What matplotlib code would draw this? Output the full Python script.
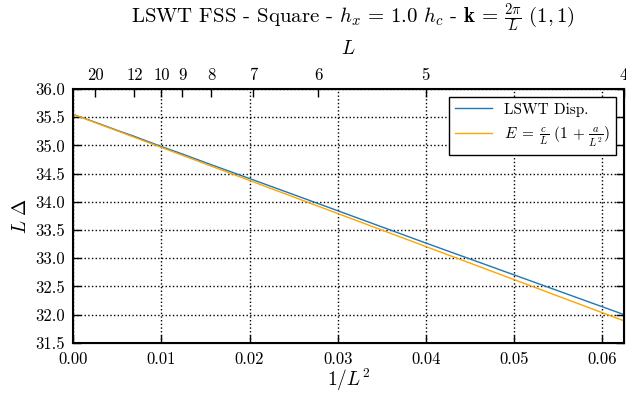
import matplotlib
matplotlib.use("Agg")
import matplotlib.pyplot as plt
import numpy as np

plt.rcParams['font.family'] = 'serif'
plt.rcParams['font.serif'] = ['cmr10']
plt.rcParams['mathtext.fontset'] = 'cm'
plt.rcParams['axes.formatter.use_mathtext'] = True

# LSWT dispersion, L * gap vs linear size L
L_vals = [4, 5, 6, 7, 8, 9, 10, 12, 14, 16, 20, 30, 50, 100, 1000]
L_gap = [32.00, 33.27, 33.97, 34.39, 34.66, 34.85, 34.98, 35.16,
         35.26, 35.33, 35.41, 35.49, 35.527, 35.544, 35.55]

fit_x = [0.0, 0.0625]
fit_y = [35.55, 31.89]

top_L = [20, 12, 10, 9, 8, 7, 6, 5, 4]

x = 1.0 / np.array(L_vals, dtype=float) ** 2

fig = plt.figure(figsize=(6.26, 4.01), dpi=100)
ax = fig.add_axes([0.117, 0.145, 0.880, 0.633])

ax.plot(x, L_gap, color='#1f77b4', lw=1.0, label='LSWT Disp.')
ax.plot(fit_x, fit_y, color='orange', lw=1.0,
        label=r'$E \;=\; \frac{c}{L}\ (1 \,+\, \frac{a}{L^2})$')

ax.set_xlim(0, 0.0625)
ax.set_ylim(31.5, 36.0)
ax.set_xticks([0.0, 0.01, 0.02, 0.03, 0.04, 0.05, 0.06])
ax.set_xticklabels(['0.00', '0.01', '0.02', '0.03', '0.04', '0.05', '0.06'])
ax.set_yticks(np.arange(31.5, 36.01, 0.5))
ax.set_yticklabels(['%.1f' % v for v in np.arange(31.5, 36.01, 0.5)])
ax.tick_params(direction='in', length=6, width=1, labelsize=12,
               right=True, top=False, pad=6)
ax.grid(True, color='black', linestyle=':', lw=1)
for s in ax.spines.values():
    s.set_linewidth(1.5)

ax.set_xlabel(r'$1/L^2$', fontsize=14, labelpad=0)
ax.set_ylabel(r'$L\ \Delta$', fontsize=14)

ax2 = ax.twiny()
ax2.set_xlim(ax.get_xlim())
ax2.set_xticks([1.0 / l ** 2 for l in top_L])
ax2.set_xticklabels([str(l) for l in top_L])
ax2.tick_params(direction='in', length=6, width=1, labelsize=12, pad=4)
ax2.set_xlabel(r'$L$', fontsize=14, labelpad=10)

leg = ax.legend(loc='upper right', fontsize=11, fancybox=False,
                framealpha=1, edgecolor='black', handlelength=2.4)
leg.get_frame().set_linewidth(1.0)

fig.text(0.564, 0.955,
         r'LSWT FSS - Square - $h_x \,=\, 1.0\ h_c$ - $\mathbf{k} \,=\, \frac{2\pi}{L}\ (1,1)$',
         ha='center', va='center', fontsize=15)

fig.savefig('out.png', dpi=100)
